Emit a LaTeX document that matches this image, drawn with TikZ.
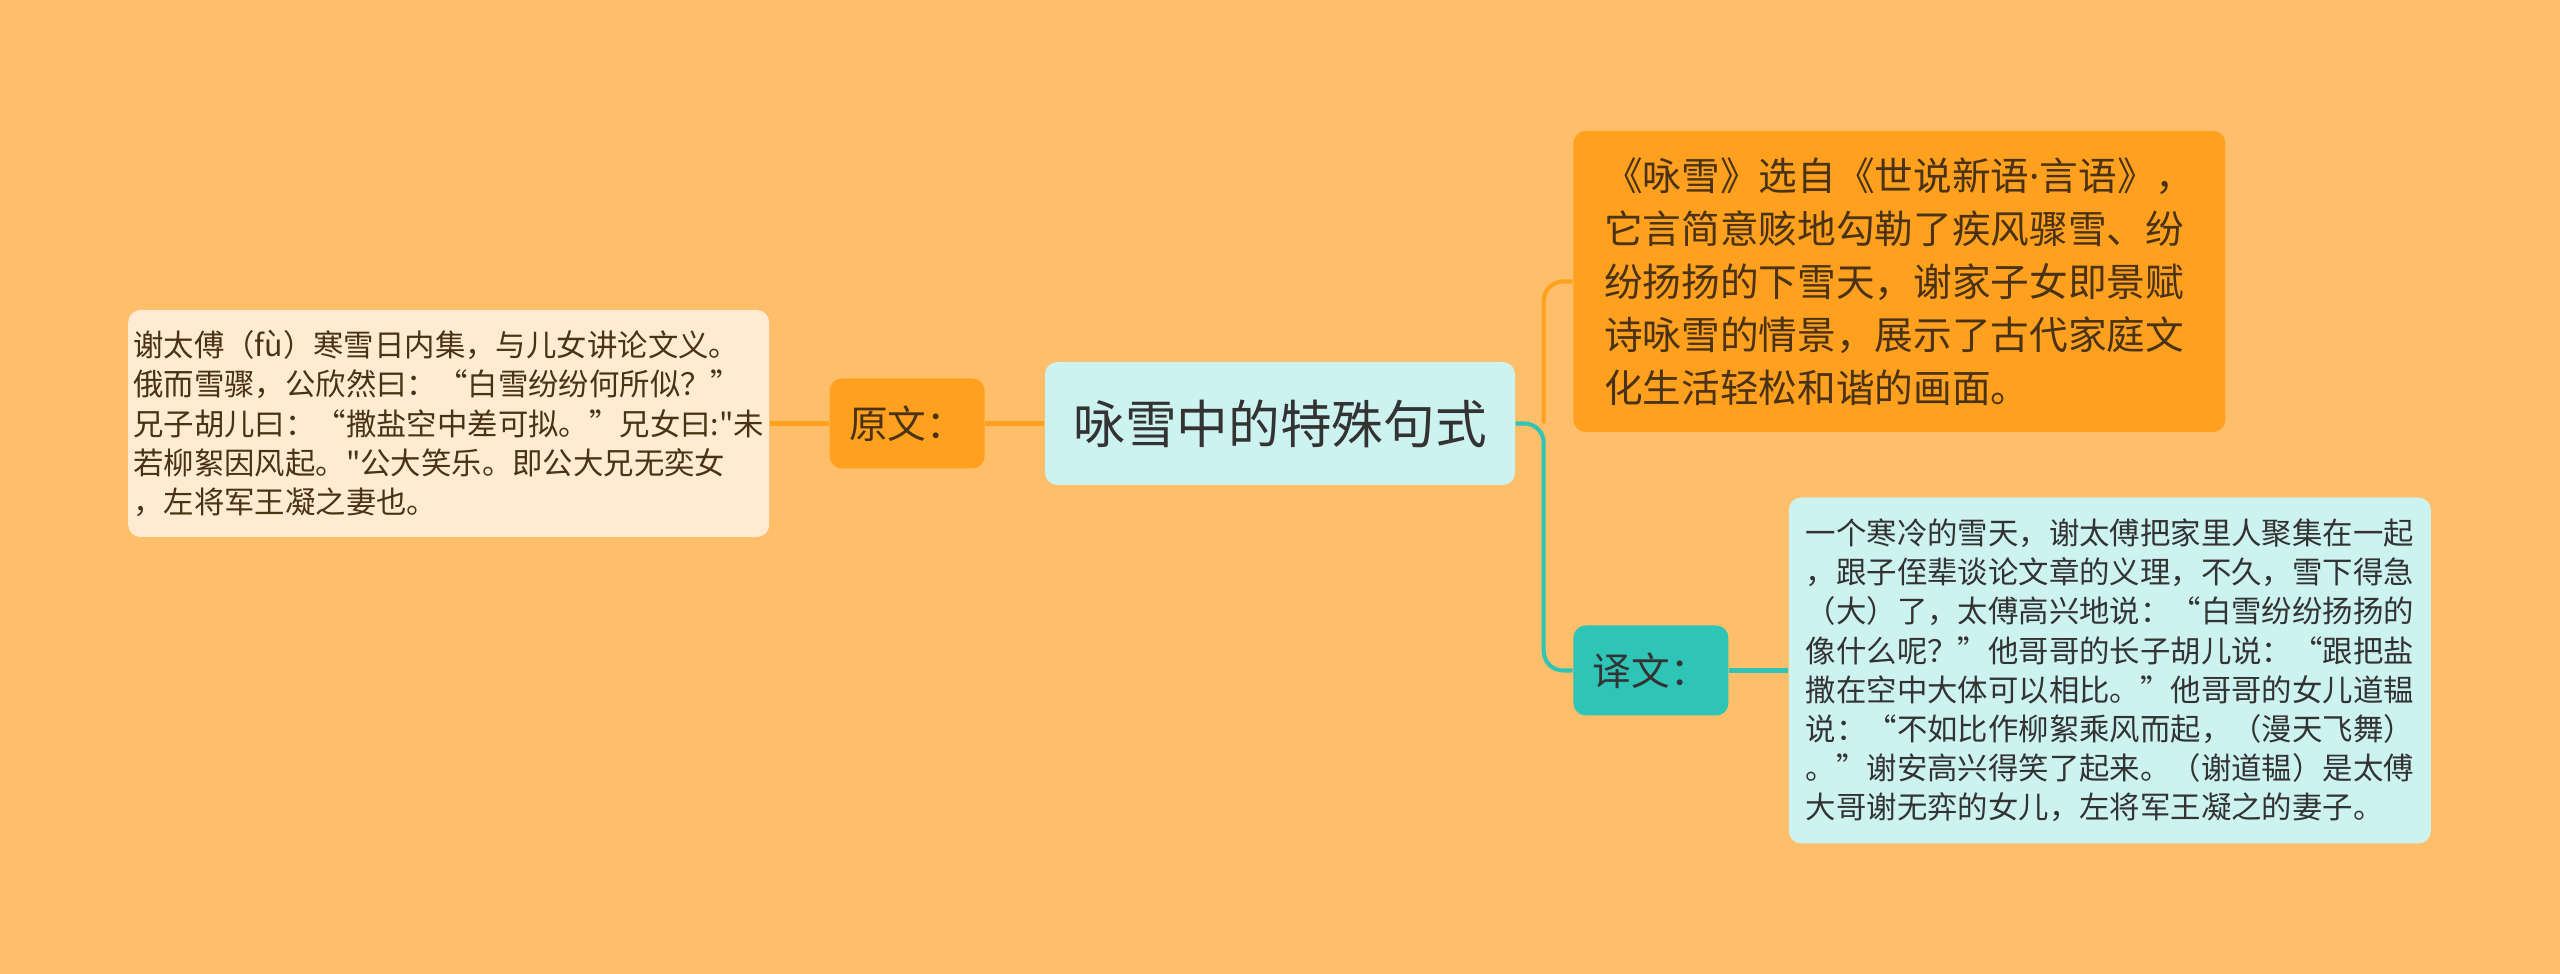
\documentclass[tikz,border=0pt]{standalone}
\usepackage{fontspec}
\newfontfamily\cjk{Noto Sans CJK SC}
\newfontfamily\latin{Noto Sans}
\usetikzlibrary{positioning}
\definecolor{mbg}{HTML}{FFBE6A}
\definecolor{morange}{HTML}{FFA11F}
\definecolor{mteal}{HTML}{2EC4B6}
\definecolor{mcyan}{HTML}{CDF3F0}
\definecolor{mcream}{HTML}{FFEBD2}
\definecolor{mdark}{HTML}{333333}
\definecolor{mbrown}{HTML}{4A3214}

\begin{document}
\begin{tikzpicture}[
  box/.style={rectangle, rounded corners=3.5pt, inner sep=0pt, text=mdark, font=\cjk},
  topic/.style={box, fill=mcyan, minimum width=4.7cm, minimum height=1.23cm,
    font=\cjk\fontsize{14.7}{18}\selectfont},
  tag/.style={box, minimum width=1.55cm, minimum height=0.9cm,
    font=\cjk\fontsize{11}{14}\selectfont},
  note/.style={box, align=left, font=\cjk\fontsize{8.65}{11.15}\selectfont},
  link/.style={line width=1.15pt, rounded corners=5.5pt}
]
\fill[mbg] (0,0) rectangle (25.6,-9.74);

\node[topic] (root) at (12.8,-4.235) {咏雪中的特殊句式};

% left side
\node[tag, fill=morange, text=mbrown, left=0.59cm of root] (yuanwen) {原文：};
\node[note, fill=mcream, text=mbrown, minimum width=6.41cm, minimum height=2.27cm,
  left=0.59cm of yuanwen] (yuanwentext) {谢太傅（fù）寒雪日内集，与儿女讲论文义。\\
俄而雪骤，公欣然曰：“白雪纷纷何所似？”\\
兄子胡儿曰：“撒盐空中差可拟。”兄女曰:"未\\
若柳絮因风起。"公大笑乐。即公大兄无奕女\\
，左将军王凝之妻也。};

% right side
\coordinate[right=0.28cm of root] (fork);
\node[box, fill=morange, text=mbrown, align=left, minimum width=6.52cm, minimum height=3.01cm,
  font=\cjk\fontsize{11}{15.1}\selectfont,
  right=0.57cm of root, yshift=1.42cm] (intro) {《咏雪》选自《世说新语{\latin ·}言语》，\\
它言简意赅地勾勒了疾风骤雪、纷\\
纷扬扬的下雪天，谢家子女即景赋\\
诗咏雪的情景，展示了古代家庭文\\
化生活轻松和谐的画面。};
\node[tag, fill=mteal, right=0.57cm of root, yshift=-2.47cm] (yiwen) {译文：};
\node[note, fill=mcyan, minimum width=6.42cm, minimum height=3.46cm,
  right=0.59cm of yiwen] (yiwentext) {一个寒冷的雪天，谢太傅把家里人聚集在一起\\
，跟子侄辈谈论文章的义理，不久，雪下得急\\
（大）了，太傅高兴地说：“白雪纷纷扬扬的\\
像什么呢？”他哥哥的长子胡儿说：“跟把盐\\
撒在空中大体可以相比。”他哥哥的女儿道韫\\
说：“不如比作柳絮乘风而起，（漫天飞舞）\\
。”谢安高兴得笑了起来。（谢道韫）是太傅\\
大哥谢无弈的女儿，左将军王凝之的妻子。};

\draw[link, morange] (root) -- (yuanwen);
\draw[link, morange] (yuanwen) -- (yuanwentext);
\draw[link, morange] (fork) |- (intro.west);
\draw[link, mteal] (root.east) -- (fork) |- (yiwen.west);
\draw[link, mteal] (yiwen) -- (yiwentext);
\end{tikzpicture}
\end{document}
